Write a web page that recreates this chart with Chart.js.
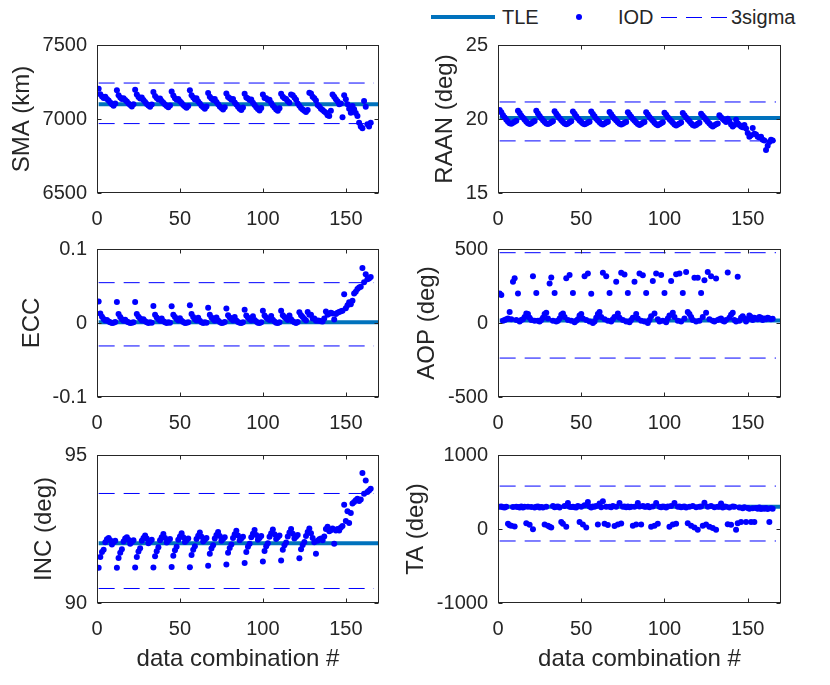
<!DOCTYPE html>
<html><head><meta charset="utf-8">
<script src="https://cdn.jsdelivr.net/npm/chart.js@4.4.0/dist/chart.umd.min.js"></script>
<style>
html,body{margin:0;padding:0;background:#fff;}
#wrap{position:relative;width:830px;height:685px;overflow:hidden;font-family:"Liberation Sans",Arial,Helvetica,sans-serif;color:#262626;}
canvas.panel{position:absolute;left:0;top:0;}
.lg{position:absolute;}
.lt{position:absolute;top:5px;height:24px;line-height:24px;font-size:20px;white-space:nowrap;}
</style></head><body>
<div id="wrap">
  <div class="lg" style="left:431px;top:15px;width:64px;height:4px;background:#0072BD;"></div>
  <div class="lt" style="left:502px;">TLE</div>
  <div class="lg" style="left:576px;top:14px;width:6px;height:6px;border-radius:50%;background:#0000FF;"></div>
  <div class="lt" style="left:618px;">IOD</div>
  <div class="lg" style="left:661px;top:17px;width:66px;height:1px;background:repeating-linear-gradient(90deg,#0000FF 0 16px,transparent 16px 25px);"></div>
  <div class="lt" style="left:731px;">3sigma</div>
  <canvas class="panel" id="c0" width="830" height="685"></canvas>
  <canvas class="panel" id="c1" width="830" height="685"></canvas>
  <canvas class="panel" id="c2" width="830" height="685"></canvas>
  <canvas class="panel" id="c3" width="830" height="685"></canvas>
  <canvas class="panel" id="c4" width="830" height="685"></canvas>
  <canvas class="panel" id="c5" width="830" height="685"></canvas>
</div>
<script>
// ---------------- data ----------------
const xTicks = [0, 50, 100, 150];
const xRange = [0, 170];
const tleSpan = [1, 170];
const sigmaSpan = [1, 167];
const xTitle = 'data combination #';

const smaTicks = [6500, 7000, 7500];
const smaTLE = 7100;
const smaSigma = [7243, 6969];
const smaIOD = [
7205,7168,7152,7142,7150,7135,7125,7112,7100,7090,7105,
7194,7160,7145,7135,7140,7128,7118,7105,7095,7085,7100,
7198,7165,7148,7138,7145,7128,7115,7102,7092,7082,7098,
7182,7155,7142,7132,7138,7122,7110,7098,7088,7080,7092,
7185,7158,7140,7130,7135,7120,7108,7095,7085,7076,7088,
7194,7160,7145,7132,7140,7118,7105,7090,7080,7070,7085,
7175,7150,7138,7128,7135,7115,7100,7085,7075,7065,7080,
7172,7148,7140,7130,7135,7112,7098,7082,7070,7060,7078,
7170,7145,7138,7128,7132,7110,7095,7080,7068,7058,7075,
7165,7142,7140,7128,7130,7108,7092,7078,7065,7055,7072,
7170,7150,7140,7135,7120,7110,7165,7160,7145,7130,7105,
7090,7075,7065,7055,7048,7060,7178,7172,7150,7140,7125,
7095,7085,7070,7060,7050,7043,7025,7020,7055,7166,7150,
7133,7120,7100,7105,7012,7160,7133,7100,7070,7043,7088,
7066,7040,7020,6975,6950,6937,7122,7082,6965,6950,6975];

const raanTicks = [15, 20, 25];
const raanTLE = 20.07;
const raanSigma = [21.15, 18.52];
const raanIOD = [
20.60,20.45,20.25,20.10,19.95,19.82,19.72,19.68,19.75,19.82,19.88,
20.55,20.40,20.22,20.08,19.95,19.82,19.72,19.66,19.72,19.80,19.86,
20.55,20.38,20.20,20.05,19.92,19.80,19.70,19.66,19.72,19.78,19.85,
20.52,20.36,20.20,20.05,19.92,19.80,19.70,19.65,19.70,19.78,19.84,
20.50,20.35,20.18,20.04,19.90,19.80,19.70,19.64,19.70,19.76,19.82,
20.50,20.34,20.18,20.02,19.90,19.78,19.68,19.63,19.70,19.76,19.82,
20.48,20.32,20.16,20.02,19.90,19.78,19.68,19.62,19.68,19.75,19.80,
20.46,20.30,20.15,20.00,19.88,19.76,19.66,19.60,19.66,19.74,19.80,
20.45,20.30,20.14,20.00,19.88,19.75,19.65,19.58,19.65,19.72,19.78,
20.42,20.28,20.12,19.98,19.86,19.74,19.62,19.56,19.62,19.70,19.76,
20.40,20.26,20.10,19.96,19.84,19.72,19.60,19.54,19.60,19.68,19.74,
20.35,20.22,20.08,19.95,19.82,19.70,19.58,19.50,19.58,19.65,19.70,
20.25,20.12,20.00,19.90,19.80,20.02,19.85,19.62,19.50,19.60,19.95,
19.72,19.60,19.50,19.45,19.60,19.35,19.05,18.80,18.90,19.40,19.00,
18.95,18.80,18.75,18.80,18.60,18.55,17.90,18.20,18.45,18.60,18.55];

const eccTicks = [-0.1, 0, 0.1];
const eccTLE = 0.001;
const eccSigma = [0.0545, -0.031];
const eccIOD = [
0.0290,0.0130,0.0085,0.0055,0.0035,0.0040,0.0020,0.0010,0.0000,0.0005,0.0015,
0.0285,0.0120,0.0080,0.0050,0.0030,0.0045,0.0020,0.0010,0.0000,0.0005,0.0010,
0.0285,0.0120,0.0085,0.0060,0.0035,0.0050,0.0025,0.0010,0.0000,0.0010,0.0005,
0.0230,0.0110,0.0075,0.0050,0.0030,0.0060,0.0025,0.0010,0.0000,0.0010,0.0005,
0.0225,0.0110,0.0080,0.0055,0.0035,0.0065,0.0030,0.0015,0.0000,0.0005,0.0010,
0.0240,0.0120,0.0080,0.0050,0.0035,0.0070,0.0030,0.0010,0.0000,0.0010,0.0005,
0.0205,0.0110,0.0075,0.0050,0.0030,0.0075,0.0035,0.0015,0.0000,0.0005,0.0015,
0.0195,0.0105,0.0075,0.0055,0.0035,0.0080,0.0035,0.0015,0.0005,0.0000,0.0010,
0.0180,0.0100,0.0070,0.0050,0.0035,0.0090,0.0040,0.0020,0.0005,0.0000,0.0010,
0.0165,0.0100,0.0075,0.0055,0.0040,0.0095,0.0045,0.0020,0.0005,0.0000,0.0010,
0.0165,0.0105,0.0080,0.0060,0.0040,0.0100,0.0050,0.0025,0.0010,0.0000,0.0015,
0.0145,0.0105,0.0080,0.0055,0.0035,0.0150,0.0110,0.0110,0.0060,0.0060,0.0030,
0.0035,0.0030,0.0025,0.0020,0.0060,0.0156,0.0110,0.0125,0.0140,0.0130,0.0046,
0.0120,0.0140,0.0150,0.0160,0.0165,0.0388,0.0200,0.0240,0.0280,0.0252,0.0300,
0.0400,0.0423,0.0460,0.0480,0.0490,0.0744,0.0550,0.0660,0.0590,0.0602,0.0622];

const aopTicks = [-500, 0, 500];
const aopTLE = 17;
const aopSigma = [475, -237];
const aopIOD = [
200,190,15,20,25,30,75,25,278,302,20,
200,10,20,25,40,65,60,35,20,316,15,
203,15,10,20,35,60,70,30,267,307,15,
203,10,15,30,55,65,40,302,20,325,15,
203,5,15,25,50,60,30,316,20,334,10,
197,0,10,35,60,75,40,339,25,316,15,
203,10,25,40,278,65,35,339,20,328,10,
203,5,20,35,278,60,30,334,15,323,10,
203,0,20,45,284,65,334,25,10,325,15,
203,5,30,50,284,70,40,330,15,334,10,
203,30,345,75,60,40,20,305,10,305,15,
203,40,289,70,345,25,316,15,10,300,20,
25,30,15,10,20,341,35,55,70,20,10,
312,15,35,45,30,10,25,50,40,20,35,
30,25,40,35,20,30,25,35,30,25,28];

const incTicks = [90, 95];
const incTLE = 92.02;
const incSigma = [93.7, 90.49];
const incIOD = [
91.19,91.55,91.72,91.80,92.05,92.15,92.20,92.12,91.98,92.05,92.10,
91.19,91.52,91.70,91.82,92.08,92.18,92.22,92.14,92.00,92.06,92.12,
91.20,91.55,91.74,91.85,92.10,92.20,92.28,92.18,92.02,92.08,92.14,
91.20,91.58,91.75,91.88,92.12,92.22,92.33,92.20,92.04,92.10,92.16,
91.22,91.60,91.78,91.90,92.14,92.25,92.36,92.22,92.06,92.12,92.18,
91.21,91.62,91.80,91.92,92.16,92.27,92.38,92.24,92.08,92.14,92.20,
91.26,91.66,91.84,91.95,92.18,92.30,92.40,92.26,92.10,92.16,92.22,
91.30,91.70,91.86,91.98,92.20,92.32,92.44,92.28,92.12,92.18,92.24,
91.35,91.72,91.90,92.00,92.22,92.34,92.47,92.30,92.14,92.20,92.26,
91.40,91.76,91.92,92.02,92.24,92.36,92.48,92.32,92.16,92.22,92.28,
91.44,91.80,91.95,92.04,92.25,92.38,92.50,92.34,92.18,92.24,92.30,
91.51,91.82,91.96,92.06,92.26,92.40,92.52,92.36,92.20,92.05,91.66,
92.10,92.15,92.18,92.12,92.25,92.50,92.58,92.42,92.46,92.52,92.00,
92.45,92.50,92.45,92.55,92.60,93.32,92.77,93.10,92.70,93.04,93.36,
93.41,93.47,93.52,93.45,93.50,94.39,93.69,94.14,93.75,93.80,93.86];

const taTicks = [-1000, 0, 1000];
const taTLE = 300;
const taSigma = [580, -162];
const taIOD = [
300,305,295,292,300,70,50,44,298,35,300,
298,292,305,290,300,78,302,57,296,-3,290,
300,305,292,298,290,60,300,45,30,20,310,
295,300,305,290,95,70,310,30,352,300,298,
300,295,290,310,95,300,60,320,20,365,305,
292,305,300,310,60,343,295,374,70,300,55,
300,295,310,40,300,60,350,75,300,305,295,
305,295,300,45,300,60,350,305,60,310,300,
300,310,295,30,305,45,350,70,300,295,305,
300,292,305,30,310,60,350,70,300,305,295,
300,305,290,78,300,45,310,20,295,-10,300,
305,45,355,60,300,30,310,15,295,-10,300,
300,345,290,305,300,65,290,57,305,300,-10,
78,290,95,280,295,95,285,275,95,280,95,
285,275,290,270,280,275,285,270,95,280,275];

// ---------------- drawing ----------------
const FONT = '"Liberation Sans", Arial, Helvetica, sans-serif';
const INK = '#262626';
const TICK_FS = 20, TITLE_FS = 24;

const boxPlugin = {
  id: 'matlabBox',
  afterDraw(chart) {
    const {ctx, chartArea: a, scales: {x, y}} = chart;
    const L = Math.round(a.left) + 0.5, R = Math.round(a.right) - 0.5;
    const T = Math.round(a.top) + 0.5, B = Math.round(a.bottom) - 0.5;
    const tl = 4;
    ctx.save();
    ctx.strokeStyle = INK; ctx.lineWidth = 1;
    ctx.beginPath();
    x.ticks.forEach(t => {
      const px = Math.round(x.getPixelForValue(t.value)) + 0.5;
      ctx.moveTo(px, B); ctx.lineTo(px, B - tl);
      ctx.moveTo(px, T); ctx.lineTo(px, T + tl);
    });
    y.ticks.forEach(t => {
      const py = Math.round(y.getPixelForValue(t.value)) + 0.5;
      ctx.moveTo(L, py); ctx.lineTo(L + tl, py);
      ctx.moveTo(R, py); ctx.lineTo(R - tl, py);
    });
    ctx.stroke();
    ctx.strokeRect(L, T, R - L, B - T);
    ctx.restore();
  }
};

const panels = [
  {id:'c0', label:'SMA (km)',  ticks:smaTicks,  iod:smaIOD,  tle:smaTLE,  sig:smaSigma,  area:{l:97, t:45, r:379, b:193}, tc:22,    xt:false},
  {id:'c1', label:'RAAN (deg)',ticks:raanTicks, iod:raanIOD, tle:raanTLE, sig:raanSigma, area:{l:498,t:45, r:781, b:193}, tc:445.5, xt:false},
  {id:'c2', label:'ECC',       ticks:eccTicks,  iod:eccIOD,  tle:eccTLE,  sig:eccSigma,  area:{l:97, t:249,r:379, b:397}, tc:32,    xt:false},
  {id:'c3', label:'AOP (deg)', ticks:aopTicks,  iod:aopIOD,  tle:aopTLE,  sig:aopSigma,  area:{l:498,t:249,r:781, b:397}, tc:427.5, xt:false},
  {id:'c4', label:'INC (deg)', ticks:incTicks,  iod:incIOD,  tle:incTLE,  sig:incSigma,  area:{l:97, t:455,r:379, b:603}, tc:44.5,  xt:true},
  {id:'c5', label:'TA (deg)',  ticks:taTicks,   iod:taIOD,   tle:taTLE,   sig:taSigma,   area:{l:498,t:455,r:781, b:603}, tc:416.5, xt:true}
];

function hline(v, span) { return [{x: span[0], y: v}, {x: span[1], y: v}]; }

panels.forEach(p => {
  const titleLeft = p.tc - 0.6 * TITLE_FS;
  const xH = p.xt ? 71 : 40;
  const yT = p.ticks;
  new Chart(document.getElementById(p.id), {
    type: 'scatter',
    data: {datasets: [
      {label:'3sigma', data:hline(p.sig[0], sigmaSpan), showLine:true, borderColor:'#0000FF', borderWidth:1, borderDash:[16,9], pointRadius:0, order:0},
      {label:'3sigma', data:hline(p.sig[1], sigmaSpan), showLine:true, borderColor:'#0000FF', borderWidth:1, borderDash:[16,9], pointRadius:0, order:0},
      {label:'IOD', data:p.iod.map((v,i)=>({x:i+1, y:v})), pointRadius:3, pointBackgroundColor:'#0000FF', pointBorderWidth:0, pointBorderColor:'#0000FF', order:1},
      {label:'TLE', data:hline(p.tle, tleSpan), showLine:true, borderColor:'#0072BD', borderWidth:4, borderCapStyle:'butt', pointRadius:0, order:2}
    ]},
    options: {
      responsive:false, animation:false, devicePixelRatio:1, events:[],
      layout:{padding:{left:titleLeft, top:p.area.t, right:830 - p.area.r, bottom:685 - p.area.b - xH}},
      plugins:{legend:{display:false}, tooltip:{enabled:false}},
      scales:{
        x:{type:'linear', min:xRange[0], max:xRange[1],
          afterBuildTicks:s=>{ s.ticks = xTicks.map(v=>({value:v})); },
          afterFit:s=>{ s.height = xH; },
          grid:{display:false, drawTicks:false}, border:{display:false},
          ticks:{padding:14, autoSkip:false, maxRotation:0, color:INK, font:{family:FONT, size:TICK_FS}, callback:v=>String(v)},
          title:{display:p.xt, text:xTitle, color:INK, font:{family:FONT, size:TITLE_FS}, padding:0}},
        y:{type:'linear', min:yT[0], max:yT[yT.length-1],
          afterBuildTicks:s=>{ s.ticks = yT.map(v=>({value:v})); },
          afterFit:s=>{ s.width = p.area.l - titleLeft; },
          grid:{display:false, drawTicks:false}, border:{display:false},
          ticks:{padding:10, autoSkip:false, color:INK, font:{family:FONT, size:TICK_FS}, callback:v=>String(v)},
          title:{display:true, text:p.label, color:INK, font:{family:FONT, size:TITLE_FS}, padding:0}}
      }
    },
    plugins:[boxPlugin]
  });
});
</script>
</body></html>
